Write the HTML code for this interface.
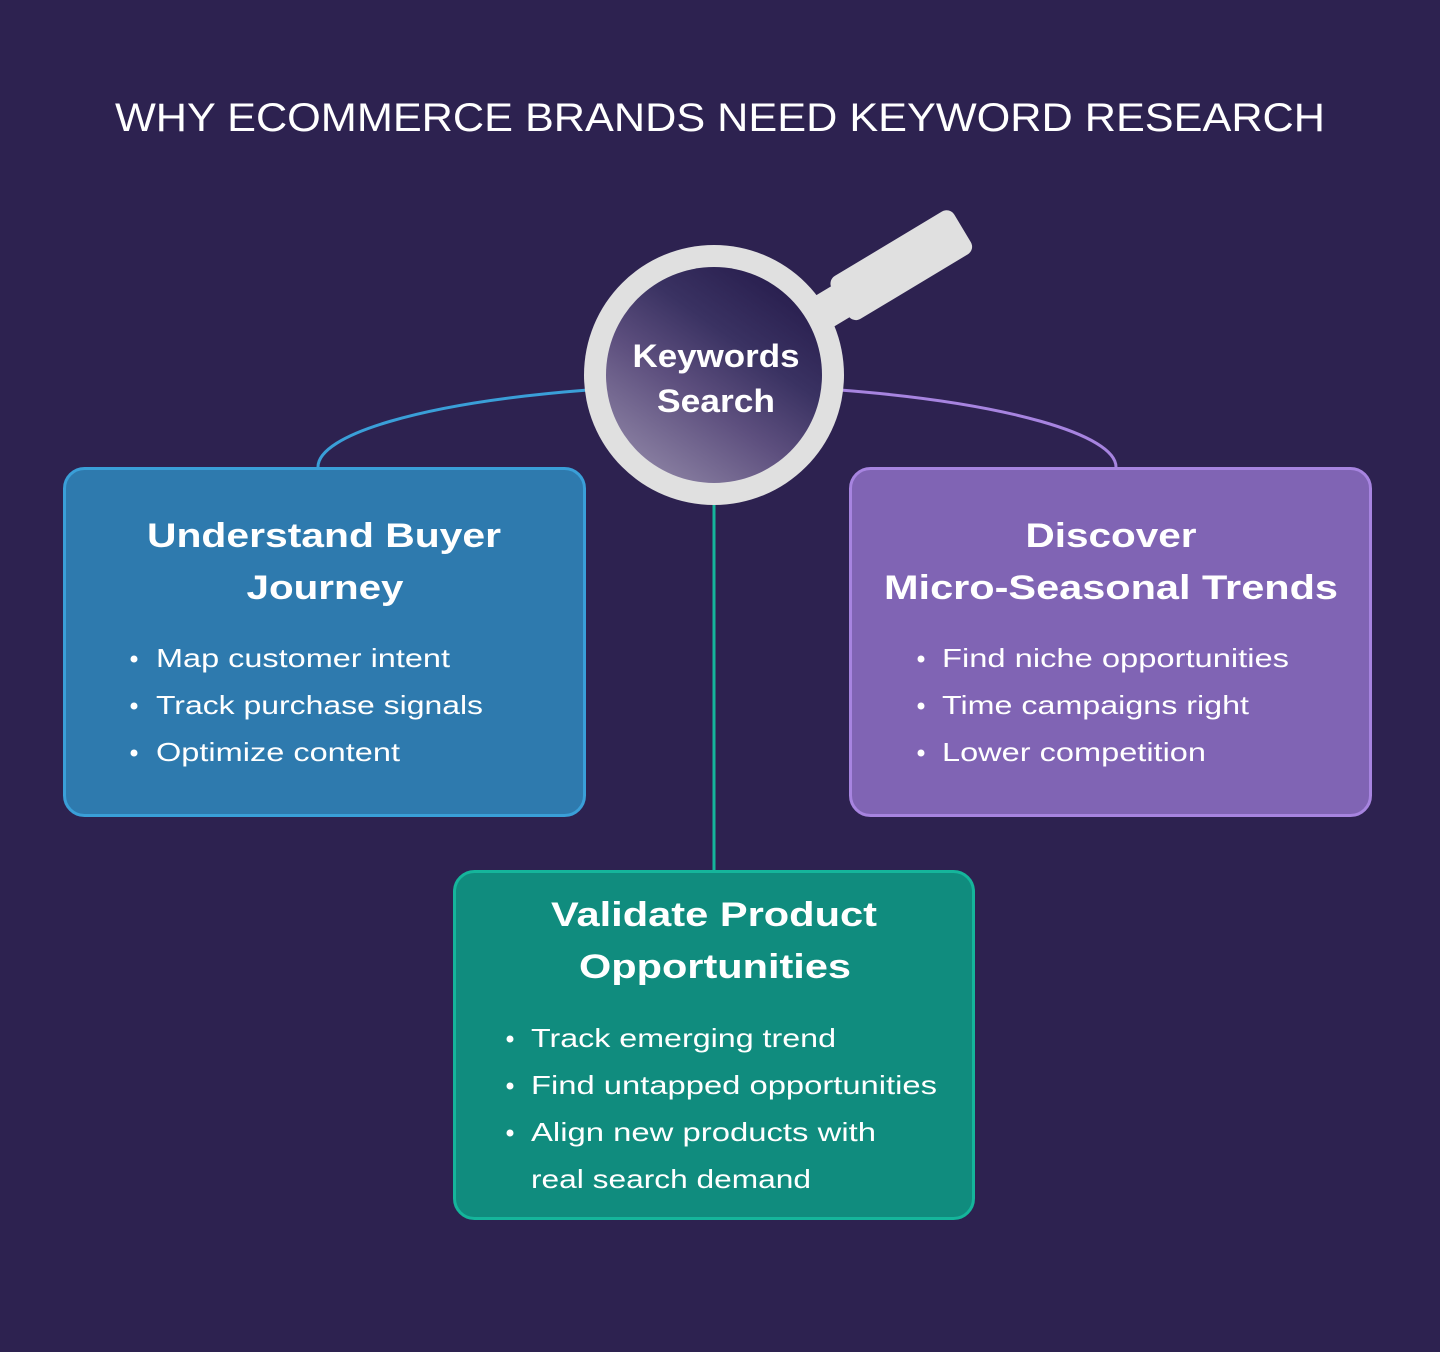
<!DOCTYPE html>
<html><head><meta charset="utf-8"><style>
html,body{margin:0;padding:0;background:#2d2250;}
svg{display:block;}
text{font-family:"Liberation Sans",sans-serif;fill:#fff;}
.t{font-size:40px;}
.h{font-size:34px;font-weight:bold;text-anchor:middle;}
.b{font-size:26px;}
</style></head><body>
<svg width="1440" height="1352" viewBox="0 0 1440 1352" xmlns="http://www.w3.org/2000/svg">
<defs>
<linearGradient id="g" x1="0.8" y1="0.1" x2="0.2" y2="0.95">
<stop offset="0" stop-color="#2a2050"/>
<stop offset="0.3" stop-color="#3a3262"/>
<stop offset="0.6" stop-color="#5d4f7e"/>
<stop offset="1" stop-color="#8a80a2"/>
</linearGradient>
</defs>
<rect width="1440" height="1352" fill="#2d2250"/>
<text class="t" x="115" y="131" textLength="1210" lengthAdjust="spacingAndGlyphs">WHY ECOMMERCE BRANDS NEED KEYWORD RESEARCH</text>

<path d="M588,390 C420,403 318,435 318,467" fill="none" stroke="#3a9fd8" stroke-width="3"/>
<path d="M840,390 C1008,403 1116,435 1116,467" fill="none" stroke="#a784e0" stroke-width="3"/>
<line x1="714" y1="500" x2="714" y2="872" stroke="#15b59b" stroke-width="3"/>

<g transform="translate(840,302) rotate(-31)">
<rect x="-40" y="-18" width="50" height="36" fill="#e0e0e0"/>
<rect x="0" y="-25" width="143" height="50" rx="9" fill="#e0e0e0"/>
</g>
<circle cx="714" cy="375" r="130" fill="#e0e0e0"/>
<circle cx="714" cy="375" r="108" fill="url(#g)"/>
<text class="h" style="font-size:32px" x="716" y="367" textLength="167" lengthAdjust="spacingAndGlyphs">Keywords</text>
<text class="h" style="font-size:32px" x="716" y="412" textLength="118" lengthAdjust="spacingAndGlyphs">Search</text>

<rect x="64.5" y="468.5" width="520" height="347" rx="20" fill="#2e7aae" stroke="#3a9fd8" stroke-width="3"/>
<text class="h" x="324" y="547" textLength="354" lengthAdjust="spacingAndGlyphs">Understand Buyer</text>
<text class="h" x="325" y="599" textLength="157" lengthAdjust="spacingAndGlyphs">Journey</text>
<g>
<circle cx="134" cy="659" r="3.5" fill="#fff"/><text class="b" x="156" y="667" textLength="294" lengthAdjust="spacingAndGlyphs">Map customer intent</text>
<circle cx="134" cy="706" r="3.5" fill="#fff"/><text class="b" x="156" y="714" textLength="327" lengthAdjust="spacingAndGlyphs">Track purchase signals</text>
<circle cx="134" cy="753" r="3.5" fill="#fff"/><text class="b" x="156" y="761" textLength="244" lengthAdjust="spacingAndGlyphs">Optimize content</text>
</g>

<rect x="850.5" y="468.5" width="520" height="347" rx="20" fill="#8064b4" stroke="#a784e0" stroke-width="3"/>
<text class="h" x="1111" y="547" textLength="171" lengthAdjust="spacingAndGlyphs">Discover</text>
<text class="h" x="1111" y="599" textLength="454" lengthAdjust="spacingAndGlyphs">Micro-Seasonal Trends</text>
<g>
<circle cx="921" cy="659" r="3.5" fill="#fff"/><text class="b" x="942" y="667" textLength="347" lengthAdjust="spacingAndGlyphs">Find niche opportunities</text>
<circle cx="921" cy="706" r="3.5" fill="#fff"/><text class="b" x="942" y="714" textLength="307" lengthAdjust="spacingAndGlyphs">Time campaigns right</text>
<circle cx="921" cy="753" r="3.5" fill="#fff"/><text class="b" x="942" y="761" textLength="264" lengthAdjust="spacingAndGlyphs">Lower competition</text>
</g>

<rect x="454.5" y="871.5" width="519" height="347" rx="20" fill="#108c7e" stroke="#15b59b" stroke-width="3"/>
<text class="h" x="714" y="926" textLength="326" lengthAdjust="spacingAndGlyphs">Validate Product</text>
<text class="h" x="715" y="978" textLength="272" lengthAdjust="spacingAndGlyphs">Opportunities</text>
<g>
<circle cx="510" cy="1039" r="3.5" fill="#fff"/><text class="b" x="531" y="1047" textLength="305" lengthAdjust="spacingAndGlyphs">Track emerging trend</text>
<circle cx="510" cy="1086" r="3.5" fill="#fff"/><text class="b" x="531" y="1094" textLength="406" lengthAdjust="spacingAndGlyphs">Find untapped opportunities</text>
<circle cx="510" cy="1133" r="3.5" fill="#fff"/><text class="b" x="531" y="1141" textLength="345" lengthAdjust="spacingAndGlyphs">Align new products with</text>
<text class="b" x="531" y="1188" textLength="280" lengthAdjust="spacingAndGlyphs">real search demand</text>
</g>
</svg>
</body></html>
